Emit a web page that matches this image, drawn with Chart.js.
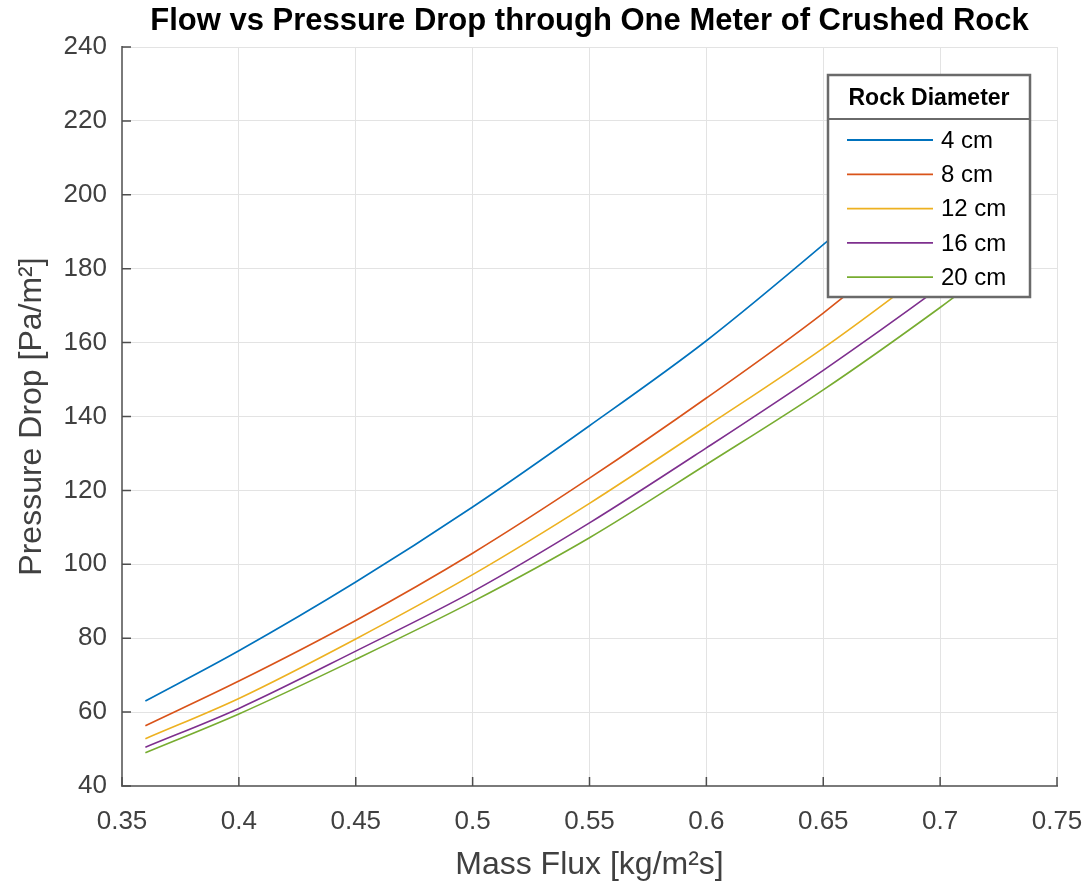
<!DOCTYPE html>
<html>
<head>
<meta charset="utf-8">
<title>Flow vs Pressure Drop</title>
<script src="https://cdn.jsdelivr.net/npm/chart.js@4.4.0/dist/chart.umd.min.js"></script>
<style>
  html, body { margin: 0; padding: 0; background: #fff; }
  #wrap { width: 1090px; height: 888px; }
</style>
</head>
<body>
<div id="wrap"><canvas id="flowChart" width="1090" height="888"></canvas></div>
<script>
const massFlux = [0.36, 0.40, 0.45, 0.50, 0.55, 0.60, 0.65, 0.70, 0.72];

// pressure drop (Pa/m2) for each rock diameter
const drop4cm  = [63.0, 76.6, 95.2, 115.5, 137.5, 160.5, 186.5, 214.0, 225.5];
const drop8cm  = [56.3, 68.4, 84.8, 103.0, 123.3, 145.0, 168.0, 194.0, 205.0];
const drop12cm = [52.8, 63.7, 79.8, 97.2, 116.5, 137.3, 158.5, 182.0, 192.0];
const drop16cm = [50.5, 61.0, 76.5, 92.6, 111.2, 131.5, 152.5, 175.0, 184.5];
const drop20cm = [49.0, 59.5, 74.3, 89.9, 107.2, 127.0, 147.2, 169.5, 179.0];

const diameterLabels = ['4 cm', '8 cm', '12 cm', '16 cm', '20 cm'];
const lineColors = ['#0072BD', '#D95319', '#EDB120', '#7E2F8E', '#77AC30'];

const xTicks = [0.35, 0.4, 0.45, 0.5, 0.55, 0.6, 0.65, 0.7, 0.75];
const yTicks = [40, 60, 80, 100, 120, 140, 160, 180, 200, 220, 240];

const FONT = "'Liberation Sans', Arial, Helvetica, sans-serif";
const legendTitle = 'Rock Diameter';

function toPoints(vals) {
    return massFlux.map((x, i) => ({ x: x, y: vals[i] }));
}

const series = [drop4cm, drop8cm, drop12cm, drop16cm, drop20cm];

// MATLAB style ticks pointing into the plot
const innerTicks = {
    id: 'innerTicks',
    afterDraw(chart) {
        const { ctx, chartArea, scales } = chart;
        ctx.save();
        ctx.strokeStyle = '#4d4d4d';
        ctx.lineWidth = 1.5;
        ctx.beginPath();
        xTicks.forEach(v => {
            const px = scales.x.getPixelForValue(v);
            ctx.moveTo(px, chartArea.bottom);
            ctx.lineTo(px, chartArea.bottom - 9);
        });
        yTicks.forEach(v => {
            const py = scales.y.getPixelForValue(v);
            ctx.moveTo(chartArea.left, py);
            ctx.lineTo(chartArea.left + 9, py);
        });
        ctx.stroke();
        ctx.restore();
    }
};

// boxed legend with a header row, drawn over the lines
const legendBox = {
    id: 'legendBox',
    afterDraw(chart) {
        const { ctx, chartArea } = chart;
        const w = 202, h = 222;
        const left = chartArea.right - 27 - w;
        const top = chartArea.top + 28;
        const headerH = 44;
        const rowH = 34.3;

        ctx.save();
        ctx.fillStyle = '#ffffff';
        ctx.fillRect(left, top, w, h);

        ctx.fillStyle = '#000';
        ctx.font = 'bold 23px ' + FONT;
        ctx.textAlign = 'center';
        ctx.textBaseline = 'middle';
        ctx.fillText(legendTitle, left + w / 2, top + headerH / 2 + 2);

        ctx.strokeStyle = '#6a6a6a';
        ctx.lineWidth = 2;
        ctx.beginPath();
        ctx.moveTo(left, top + headerH);
        ctx.lineTo(left + w, top + headerH);
        ctx.stroke();

        ctx.font = '24px ' + FONT;
        ctx.textAlign = 'left';
        chart.data.datasets.forEach((ds, i) => {
            const cy = top + headerH + 21 + i * rowH;
            ctx.strokeStyle = ds.borderColor;
            ctx.lineWidth = 1.8;
            ctx.beginPath();
            ctx.moveTo(left + 19, cy);
            ctx.lineTo(left + 105, cy);
            ctx.stroke();
            ctx.fillStyle = '#000';
            ctx.fillText(ds.label, left + 113, cy + 1);
        });

        ctx.strokeStyle = '#6a6a6a';
        ctx.lineWidth = 2.5;
        ctx.strokeRect(left, top, w, h);
        ctx.restore();
    }
};

new Chart(document.getElementById('flowChart').getContext('2d'), {
    type: 'line',
    data: {
        datasets: series.map((vals, i) => ({
            label: diameterLabels[i],
            data: toPoints(vals),
            borderColor: lineColors[i],
            backgroundColor: lineColors[i],
            borderWidth: 1.6,
            pointRadius: 0,
            cubicInterpolationMode: 'monotone',
            fill: false
        }))
    },
    options: {
        responsive: false,
        animation: false,
        events: [],
        layout: { padding: { top: 0, right: 33, bottom: 0, left: 0 } },
        plugins: {
            legend: { display: false },
            tooltip: { enabled: false },
            title: {
                display: true,
                fullSize: false,
                text: 'Flow vs Pressure Drop through One Meter of Crushed Rock',
                color: '#000',
                font: { family: FONT, size: 31, weight: 'bold' },
                padding: { top: 3, bottom: 6.8 }
            }
        },
        scales: {
            x: {
                type: 'linear',
                min: 0.35,
                max: 0.75,
                afterBuildTicks: s => { s.ticks = xTicks.map(v => ({ value: v })); },
                afterFit: s => { s.height = 102; s.paddingLeft = 0; s.paddingRight = 0; },
                grid: { color: '#e3e3e3', lineWidth: 1, drawTicks: false },
                border: { display: true, color: '#7a7a7a', width: 2 },
                ticks: {
                    color: '#404040',
                    font: { family: FONT, size: 26 },
                    padding: 20,
                    maxRotation: 0,
                    callback: v => String(v)
                },
                title: {
                    display: true,
                    text: 'Mass Flux [kg/m²s]',
                    color: '#404040',
                    font: { family: FONT, size: 32 },
                    padding: { top: 0, bottom: 4 }
                }
            },
            y: {
                type: 'linear',
                min: 40,
                max: 240,
                afterBuildTicks: s => { s.ticks = yTicks.map(v => ({ value: v })); },
                afterFit: s => { s.width = 122; s.paddingTop = 0; s.paddingBottom = 0; },
                grid: { color: '#e3e3e3', lineWidth: 1, drawTicks: false },
                border: { display: true, color: '#7a7a7a', width: 2 },
                ticks: {
                    color: '#404040',
                    font: { family: FONT, size: 26 },
                    padding: 15,
                    callback: v => String(v)
                },
                title: {
                    display: true,
                    text: 'Pressure Drop [Pa/m²]',
                    color: '#404040',
                    font: { family: FONT, size: 32 },
                    padding: { top: 13, bottom: 0 }
                }
            }
        }
    },
    plugins: [innerTicks, legendBox]
});
</script>
</body>
</html>
